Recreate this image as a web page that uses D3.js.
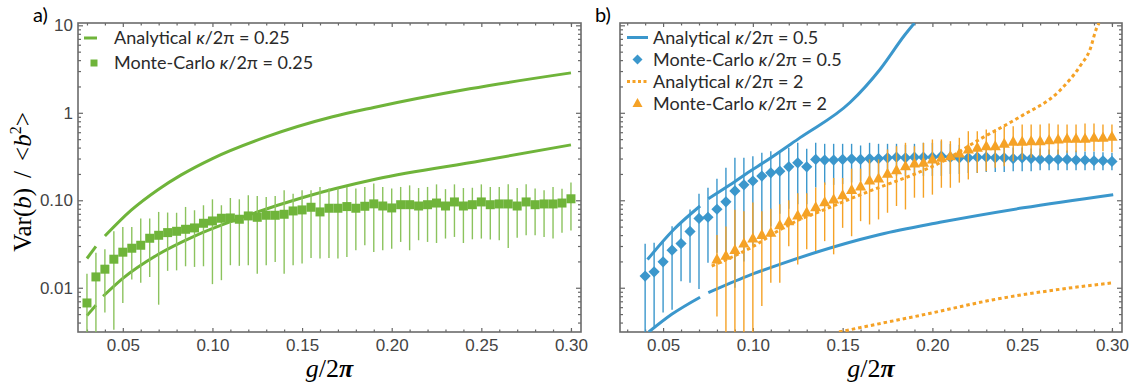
<!DOCTYPE html>
<html>
<head>
<meta charset="utf-8">
<script src="https://cdn.jsdelivr.net/npm/d3@7"></script>
<style>
  body { margin: 0; background: #fff; }
  svg { display: block; }
  .tick text { font-family: "Liberation Sans", Arial, sans-serif; font-size: 17px; fill: #444; }
  .tick line { stroke: #666; stroke-width: 1.2; }
  .legend text { font-family: Lato, "Open Sans", sans-serif; font-size: 18px; fill: #2a2a2a; }
</style>
</head>
<body>
<div id="graph"></div>
<script>
// ---- panel a) kappa/2pi = 0.25 ----
const gA = [0.030,0.035,0.040,0.045,0.050,0.055,0.060,0.065,0.070,0.075,0.080,0.085,0.090,0.095,0.100,0.105,0.110,0.115,0.120,0.125,0.130,0.135,0.140,0.145,0.150,0.155,0.160,0.165,0.170,0.175,0.180,0.185,0.190,0.195,0.200,0.205,0.210,0.215,0.220,0.225,0.230,0.235,0.240,0.245,0.250,0.255,0.260,0.265,0.270,0.275,0.280,0.285,0.290,0.295,0.300];
const mcA = [0.0067,0.0133,0.0163,0.0212,0.0255,0.0283,0.0306,0.0368,0.0398,0.0427,0.0442,0.0466,0.0483,0.0546,0.0580,0.0623,0.0628,0.0607,0.0662,0.0639,0.0674,0.0674,0.0692,0.0755,0.0776,0.0832,0.0736,0.0811,0.0811,0.0847,0.0811,0.0854,0.0910,0.0860,0.0817,0.0890,0.0890,0.0860,0.0890,0.0930,0.0860,0.0957,0.0860,0.0890,0.0957,0.0890,0.0908,0.0908,0.0860,0.0957,0.0890,0.0908,0.0908,0.0930,0.1040];
const loA = [0.001,0.001,0.0052,0.0033,0.0067,0.0124,0.0114,0.0133,0.0064,0.0156,0.0158,0.0176,0.0173,0.0176,0.0110,0.0122,0.0181,0.0178,0.0181,0.0145,0.0181,0.0197,0.0145,0.0181,0.0189,0.0219,0.0216,0.0219,0.0216,0.0225,0.0268,0.0306,0.0257,0.0268,0.0280,0.0334,0.0268,0.0349,0.0334,0.0325,0.0365,0.0381,0.0325,0.0358,0.0365,0.0355,0.0349,0.0285,0.0374,0.0398,0.0398,0.0381,0.0365,0.0424,0.0450];
const hiA = [0.0145,0.0252,0.0275,0.0442,0.0495,0.0495,0.0617,0.0617,0.0736,0.0724,0.0720,0.0839,0.0769,0.0877,0.1026,0.0877,0.1062,0.1026,0.114,0.112,0.109,0.112,0.130,0.119,0.130,0.130,0.142,0.136,0.136,0.142,0.136,0.142,0.155,0.142,0.136,0.142,0.148,0.138,0.142,0.152,0.134,0.152,0.138,0.139,0.152,0.142,0.142,0.152,0.138,0.152,0.136,0.130,0.142,0.135,0.160];
// analytical curves, each drawn in two pieces
const anaUpA1 = [[0.030,0.0216],[0.035,0.0298]];
const anaUpA2 = [[0.040,0.039],[0.0547,0.077],[0.0696,0.132],[0.0826,0.195],[0.100,0.30],[0.130,0.53],[0.167,0.90],[0.190,1.15],[0.2435,1.88],[0.300,2.86]];
const anaLoA1 = [[0.030,0.0048],[0.035,0.0063]];
const anaLoA2 = [[0.039,0.0080],[0.050,0.0128],[0.0696,0.024],[0.090,0.039],[0.115,0.062],[0.150,0.107],[0.192,0.176],[0.250,0.283],[0.300,0.43]];

// ---- panel b) kappa/2pi = 0.5 (blue) and 2 (orange) ----
const gB = [0.040,0.045,0.050,0.055,0.060,0.065,0.070,0.075,0.080,0.085,0.090,0.095,0.100,0.105,0.110,0.115,0.120,0.125,0.130,0.135,0.140,0.145,0.150,0.155,0.160,0.165,0.170,0.175,0.180,0.185,0.190,0.195,0.200,0.205,0.210,0.215,0.220,0.225,0.230,0.235,0.240,0.245,0.250,0.255,0.260,0.265,0.270,0.275,0.280,0.285,0.290,0.295,0.300];
const mcB = [0.0136,0.0152,0.0198,0.0269,0.032,0.044,0.062,0.064,0.079,0.096,0.128,0.150,0.166,0.189,0.206,0.215,0.241,0.268,0.241,0.293,0.288,0.288,0.293,0.298,0.293,0.300,0.300,0.306,0.311,0.306,0.311,0.311,0.311,0.319,0.310,0.306,0.306,0.311,0.311,0.306,0.306,0.300,0.306,0.300,0.293,0.293,0.293,0.293,0.288,0.288,0.283,0.283,0.278];
const loB = [0.001,0.0036,0.0052,0.0056,0.0119,0.0114,0.0097,0.0193,0.0251,0.021,0.010,0.020,0.030,0.040,0.050,0.070,0.080,0.090,0.090,0.140,0.150,0.150,0.153,0.160,0.165,0.170,0.170,0.180,0.190,0.190,0.190,0.190,0.190,0.190,0.200,0.200,0.205,0.205,0.210,0.210,0.210,0.215,0.215,0.215,0.220,0.220,0.220,0.220,0.220,0.220,0.220,0.220,0.220];
const hiB = [0.0318,0.0327,0.0336,0.0506,0.0553,0.0785,0.1186,0.139,0.176,0.235,0.306,0.306,0.319,0.349,0.364,0.364,0.398,0.454,0.388,0.454,0.442,0.442,0.442,0.442,0.423,0.454,0.442,0.442,0.442,0.430,0.442,0.454,0.454,0.474,0.440,0.430,0.430,0.420,0.420,0.410,0.410,0.400,0.400,0.390,0.390,0.380,0.380,0.370,0.370,0.360,0.360,0.355,0.350];
const gC = [0.080,0.085,0.090,0.095,0.100,0.105,0.110,0.115,0.120,0.125,0.130,0.135,0.140,0.145,0.150,0.155,0.160,0.165,0.170,0.175,0.180,0.185,0.190,0.195,0.200,0.205,0.210,0.215,0.220,0.225,0.230,0.235,0.240,0.245,0.250,0.255,0.260,0.265,0.270,0.275,0.280,0.285,0.290,0.295,0.300];
const mcC = [0.0211,0.0232,0.0271,0.032,0.0366,0.040,0.0425,0.0517,0.0577,0.067,0.0725,0.083,0.095,0.102,0.114,0.131,0.144,0.168,0.177,0.201,0.221,0.245,0.263,0.268,0.293,0.306,0.319,0.343,0.381,0.398,0.415,0.415,0.442,0.466,0.466,0.474,0.474,0.486,0.496,0.504,0.504,0.504,0.518,0.518,0.532];
const loC = [0.0047,0.001,0.001,0.001,0.001,0.0062,0.0114,0.0114,0.0299,0.0185,0.0275,0.0263,0.0341,0.0241,0.0484,0.0388,0.0577,0.0529,0.0604,0.072,0.086,0.0785,0.107,0.107,0.116,0.139,0.139,0.159,0.173,0.206,0.215,0.235,0.245,0.280,0.293,0.306,0.319,0.334,0.334,0.349,0.355,0.364,0.364,0.364,0.355];
const hiC = [0.040,0.050,0.078,0.075,0.094,0.075,0.080,0.090,0.100,0.120,0.120,0.140,0.160,0.180,0.180,0.230,0.230,0.293,0.293,0.381,0.415,0.454,0.415,0.454,0.496,0.496,0.474,0.518,0.616,0.616,0.644,0.644,0.703,0.703,0.735,0.735,0.735,0.755,0.735,0.735,0.735,0.755,0.755,0.735,0.735];
const anaUpB1 = [[0.0413,0.021],[0.0558,0.046],[0.0706,0.086]];
const anaUpB2 = [[0.0752,0.104],[0.0873,0.150],[0.0984,0.215],[0.1058,0.268],[0.1263,0.52],[0.1541,1.31],[0.1708,3.13],[0.1848,7.85],[0.1900,11.5]];
const anaLoB1 = [[0.0420,0.0030],[0.055,0.0050],[0.0706,0.0078]];
const anaLoB2 = [[0.0752,0.0088],[0.0966,0.0135],[0.115,0.0185],[0.1597,0.0356],[0.1708,0.0407],[0.2042,0.056],[0.2506,0.082],[0.3007,0.116]];
const anaUpC = [[0.0771,0.0177],[0.1003,0.0298],[0.1151,0.046],[0.1244,0.058],[0.1411,0.080],[0.1523,0.100],[0.1653,0.128],[0.1894,0.197],[0.2042,0.268],[0.2265,0.50],[0.2488,0.90],[0.271,1.80],[0.2822,3.41],[0.2878,5.29],[0.2915,9.36],[0.2928,11.5]];
const anaLoC = [[0.1480,0.0030],[0.1597,0.0035],[0.1968,0.0050],[0.234,0.0073],[0.271,0.0096],[0.3007,0.0114]];

const xMajor = [0.05,0.10,0.15,0.20,0.25,0.30];
const xMinor = [0.03,0.04,0.06,0.07,0.08,0.09,0.11,0.12,0.13,0.14,0.16,0.17,0.18,0.19,0.21,0.22,0.23,0.24,0.26,0.27,0.28,0.29,0.30];
const yMajor = [0.01,0.1,1,10];
const yMajorLabels = ["0.01","0.10","1","10"];
const yMinor = [0.004,0.005,0.006,0.007,0.008,0.009,0.02,0.03,0.04,0.05,0.06,0.07,0.08,0.09,0.2,0.3,0.4,0.5,0.6,0.7,0.8,0.9,2,3,4,5,6,7,8,9];

const green = "#6fb43a", blue = "#3b97cc", orange = "#f5a226";

const W = 1133, H = 386;
const frameTop = 23, frameBottom = 332;

const svg = d3.select("#graph").append("svg")
  .attr("width", W)
  .attr("height", H);

const y = d3.scaleLog().domain([0.00312, 10.63]).range([frameBottom, frameTop]).clamp(true);

function panel(left, right, x0, id, showY) {
  const x = d3.scaleLinear().domain([x0, 0.3056]).range([left, right]);
  const g = svg.append("g");

  g.append("clipPath").attr("id", id)
    .append("rect")
      .attr("x", left).attr("y", frameTop)
      .attr("width", right - left).attr("height", frameBottom - frameTop);

  // frame axes, ticks pointing inward
  g.append("g").attr("transform", "translate(0," + frameBottom + ")")
    .call(d3.axisBottom(x).tickValues(xMajor).tickSize(-4).tickPadding(7).tickFormat(d3.format(".2f")));
  g.append("g").attr("transform", "translate(0," + frameBottom + ")")
    .call(d3.axisBottom(x).tickValues(xMinor).tickSize(-2.5).tickFormat(""));
  g.append("g").attr("transform", "translate(0," + frameTop + ")")
    .call(d3.axisTop(x).tickValues(xMajor).tickSize(-4).tickFormat(""));
  g.append("g").attr("transform", "translate(0," + frameTop + ")")
    .call(d3.axisTop(x).tickValues(xMinor).tickSize(-2.5).tickFormat(""));
  g.append("g").attr("transform", "translate(" + left + ",0)")
    .call(d3.axisLeft(y).tickValues(yMajor).tickSize(-5).tickPadding(5)
      .tickFormat((d, i) => showY ? yMajorLabels[i] : ""));
  g.append("g").attr("transform", "translate(" + left + ",0)")
    .call(d3.axisLeft(y).tickValues(yMinor).tickSize(-3).tickFormat(""));
  g.append("g").attr("transform", "translate(" + right + ",0)")
    .call(d3.axisRight(y).tickValues(yMajor).tickSize(-5).tickFormat(""));
  g.append("g").attr("transform", "translate(" + right + ",0)")
    .call(d3.axisRight(y).tickValues(yMinor).tickSize(-3).tickFormat(""));
  g.selectAll(".domain").remove();

  g.append("rect")
    .attr("x", left).attr("y", frameTop)
    .attr("width", right - left).attr("height", frameBottom - frameTop)
    .attr("fill", "none")
    .attr("stroke", "#6b6b6b")
    .attr("stroke-width", 1.6);

  const plot = g.append("g").attr("clip-path", "url(#" + id + ")");

  g.append("text")
    .attr("x", (left + right) / 2).attr("y", 377)
    .attr("text-anchor", "middle")
    .style("font-family", "'Liberation Serif', 'DejaVu Serif', serif")
    .style("font-size", "26px")
    .call(t => {
      t.append("tspan").style("font-style", "italic").text("g");
      t.append("tspan").text("/2");
      t.append("tspan").style("font-style", "italic").style("font-weight", "bold").text("π");
    });

  return { x: x, plot: plot };
}

function curve(p, x, pts, color, dashed) {
  const line = d3.line()
    .x(d => x(d[0]))
    .y(d => y(d[1]))
    .curve(d3.curveMonotoneX);
  p.append("path")
    .datum(pts)
    .attr("d", line)
    .attr("fill", "none")
    .attr("stroke", color)
    .attr("stroke-width", 3)
    .attr("stroke-dasharray", dashed ? "3.5,3" : null);
}

function errorBars(p, x, gs, lo, hi, color) {
  p.append("g").selectAll("line")
    .data(gs)
    .enter()
    .append("line")
      .attr("x1", d => x(d)).attr("x2", d => x(d))
      .attr("y1", (d, i) => y(lo[i]))
      .attr("y2", (d, i) => y(hi[i]))
      .attr("stroke", color)
      .attr("stroke-width", 1.4);
}

const squareSym = "M-4.5,-4.5H4.5V4.5H-4.5Z";
const diamondSym = "M0,-5.6L5.6,0L0,5.6L-5.6,0Z";
const triangleSym = "M0,-6L5.6,4L-5.6,4Z";

function markers(p, x, gs, vals, color, sym) {
  p.append("g").selectAll("path")
    .data(gs)
    .enter()
    .append("path")
      .attr("d", sym)
      .attr("transform", (d, i) => "translate(" + x(d) + "," + y(vals[i]) + ")")
      .attr("fill", color);
}

// ---- panel a ----
const pa = panel(78, 581, 0.025, "clipA", true);
curve(pa.plot, pa.x, anaUpA1, green, false);
curve(pa.plot, pa.x, anaUpA2, green, false);
curve(pa.plot, pa.x, anaLoA1, green, false);
curve(pa.plot, pa.x, anaLoA2, green, false);
errorBars(pa.plot, pa.x, gA, loA, hiA, "#8cc35e");
markers(pa.plot, pa.x, gA, mcA, green, squareSym);

// ---- panel b ----
const pb = panel(620, 1122, 0.026, "clipB", false);
curve(pb.plot, pb.x, anaUpB1, blue, false);
curve(pb.plot, pb.x, anaUpB2, blue, false);
curve(pb.plot, pb.x, anaLoB1, blue, false);
curve(pb.plot, pb.x, anaLoB2, blue, false);
errorBars(pb.plot, pb.x, gB, loB, hiB, blue);
markers(pb.plot, pb.x, gB, mcB, blue, diamondSym);
curve(pb.plot, pb.x, anaUpC, orange, true);
curve(pb.plot, pb.x, anaLoC, orange, true);
errorBars(pb.plot, pb.x, gC, loC, hiC, orange);
markers(pb.plot, pb.x, gC, mcC, orange, triangleSym);

// ---- legends ----
function legend(lx0, lx1, mx, tx, y0, step, items) {
  const lg = svg.append("g").attr("class", "legend");
  items.forEach((it, i) => {
    const yy = y0 + i * step;
    if (it.kind === "line") {
      lg.append("line")
        .attr("x1", lx0).attr("x2", lx1)
        .attr("y1", yy).attr("y2", yy)
        .attr("stroke", it.color)
        .attr("stroke-width", 3)
        .attr("stroke-dasharray", it.dashed ? "3,2.5" : null);
    } else {
      lg.append("path")
        .attr("d", it.sym)
        .attr("transform", "translate(" + mx + "," + yy + ")")
        .attr("fill", it.color);
    }
    const t = lg.append("text")
      .attr("x", tx).attr("y", yy)
      .attr("dy", "0.35em");
    t.append("tspan").text(it.label + " ");
    t.append("tspan").style("font-style", "italic").text("κ");
    t.append("tspan").text("/2π = " + it.value);
  });
}

legend(84, 97, 94, 114, 38, 25, [
  { kind: "line", color: green, label: "Analytical", value: "0.25" },
  { kind: "marker", color: green, sym: "M-3.5,-3.5H3.5V3.5H-3.5Z", label: "Monte-Carlo", value: "0.25" }
]);
legend(627, 648, 637.5, 653, 37.5, 22, [
  { kind: "line", color: blue, label: "Analytical", value: "0.5" },
  { kind: "marker", color: blue, sym: "M0,-5L5,0L0,5L-5,0Z", label: "Monte-Carlo", value: "0.5" },
  { kind: "line", color: orange, dashed: true, label: "Analytical", value: "2" },
  { kind: "marker", color: orange, sym: "M0,-5.5L5,3.5L-5,3.5Z", label: "Monte-Carlo", value: "2" }
]);

// ---- y label and panel letters ----
svg.append("text")
  .attr("transform", "translate(31,182) rotate(-90)")
  .attr("text-anchor", "middle")
  .style("font-family", "'Liberation Serif', 'DejaVu Serif', serif")
  .style("font-size", "25px")
  .call(t => {
    t.append("tspan").text("Var(");
    t.append("tspan").style("font-style", "italic").text("b");
    t.append("tspan").text(")");
    t.append("tspan").attr("dx", 10).text("/");
    t.append("tspan").attr("dx", 10).text("<");
    t.append("tspan").style("font-style", "italic").text("b");
    t.append("tspan").attr("dy", -10).style("font-size", "16px").text("2");
    t.append("tspan").attr("dy", 10).text(">");
  });

svg.append("text").attr("x", 33).attr("y", 22)
  .style("font-family", "Lato, 'Open Sans', sans-serif").style("font-size", "20px").text("a)");
svg.append("text").attr("x", 595).attr("y", 22)
  .style("font-family", "Lato, 'Open Sans', sans-serif").style("font-size", "20px").text("b)");
</script>
</body>
</html>
